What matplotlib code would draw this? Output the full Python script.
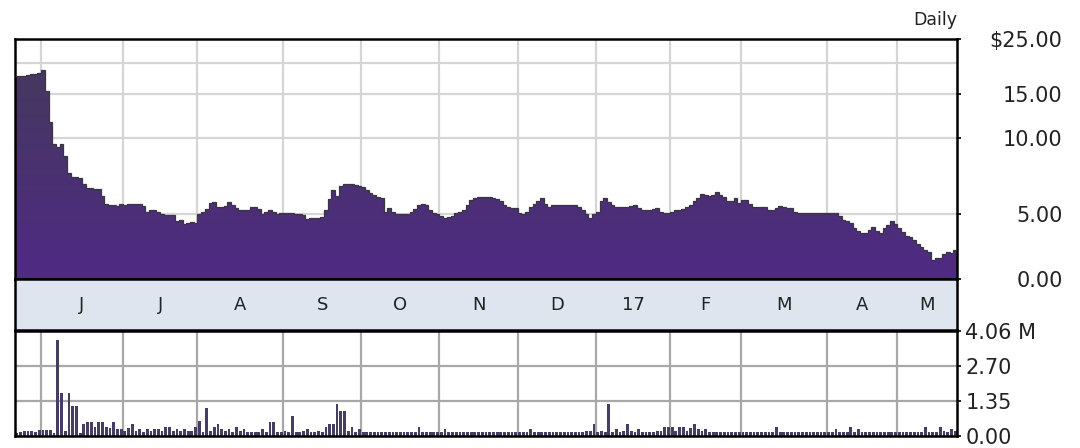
import numpy as np
import pandas as pd
import matplotlib
matplotlib.use('Agg')
import matplotlib.pyplot as plt

# trading calendar (NYSE holidays in the window)
holidays = ['2016-05-30', '2016-07-04', '2016-09-05', '2016-11-24', '2016-12-26',
            '2017-01-02', '2017-01-16', '2017-02-20', '2017-04-14']
dates = pd.bdate_range('2016-05-20', '2017-05-22', freq='C', holidays=holidays)

# daily close, $
price = [
    17.7, 17.7, 17.7, 18.0, 18.1, 18.1, 18.2, 18.8, 15.5, 11.6,
    9.5, 9.2, 9.5, 8.5, 7.3, 7.0, 7.0, 6.95, 6.6, 6.35,
    6.35, 6.3, 6.3, 5.87, 5.45, 5.4, 5.4, 5.35, 5.45, 5.4,
    5.45, 5.45, 5.45, 5.45, 5.35, 5.1, 5.15, 5.15, 5.1, 4.95,
    4.92, 4.92, 4.9, 4.45, 4.5, 4.2, 4.3, 4.35, 4.3, 5.0,
    5.1, 5.2, 5.5, 5.55, 5.3, 5.3, 5.35, 5.55, 5.4, 5.25,
    5.15, 5.15, 5.15, 5.3, 5.3, 5.2, 5.0, 5.1, 5.15, 5.1,
    5.0, 5.05, 5.05, 5.05, 5.05, 5.0, 4.95, 4.9, 4.6, 4.65,
    4.7, 4.7, 4.75, 5.15, 5.7, 6.2, 5.9, 6.45, 6.55, 6.6,
    6.6, 6.5, 6.45, 6.4, 6.2, 6.05, 5.95, 5.85, 5.78, 5.1,
    5.25, 5.1, 5.0, 5.0, 5.0, 5.0, 5.1, 5.2, 5.4, 5.45,
    5.4, 5.15, 5.05, 5.0, 4.8, 4.67, 4.75, 4.8, 5.05, 5.1,
    5.15, 5.4, 5.68, 5.8, 5.83, 5.83, 5.85, 5.83, 5.8, 5.7,
    5.6, 5.43, 5.3, 5.27, 5.25, 5.05, 5.0, 5.1, 5.3, 5.45,
    5.6, 5.78, 5.45, 5.3, 5.4, 5.43, 5.43, 5.43, 5.43, 5.43,
    5.4, 5.3, 5.19, 5.0, 4.67, 4.95, 5.1, 5.6, 5.78, 5.55,
    5.43, 5.3, 5.3, 5.3, 5.3, 5.35, 5.43, 5.25, 5.19, 5.19,
    5.19, 5.22, 5.27, 5.1, 5.03, 5.05, 5.1, 5.15, 5.19, 5.2,
    5.3, 5.43, 5.6, 5.8, 6.0, 5.95, 5.87, 5.95, 6.09, 5.95,
    5.85, 5.6, 5.6, 5.78, 5.5, 5.68, 5.68, 5.45, 5.3, 5.3,
    5.3, 5.3, 5.19, 5.19, 5.25, 5.38, 5.3, 5.27, 5.27, 5.1,
    5.05, 5.05, 5.05, 5.05, 5.05, 5.05, 5.05, 5.05, 5.05, 5.05,
    5.05, 4.8, 4.54, 4.45, 4.28, 3.9, 3.64, 3.55, 3.51, 3.75,
    3.95, 3.7, 3.51, 3.9, 4.1, 4.45, 4.2, 3.9, 3.6, 3.3,
    3.2, 3.0, 2.7, 2.45, 2.2, 2.05, 1.46, 1.6, 1.6, 1.9,
    2.1, 1.98, 2.23,
]

# daily volume, millions of shares
volume = [
    0.1, 0.15, 0.2, 0.2, 0.2, 0.15, 0.22, 0.22, 0.22, 0.22,
    0.1, 3.73, 1.67, 0.2, 1.67, 1.16, 1.16, 0.1, 0.45, 0.55,
    0.55, 0.35, 0.55, 0.55, 0.35, 0.3, 0.55, 0.26, 0.26, 0.2,
    0.32, 0.45, 0.2, 0.26, 0.15, 0.26, 0.2, 0.26, 0.26, 0.2,
    0.36, 0.36, 0.2, 0.26, 0.2, 0.26, 0.2, 0.2, 0.36, 0.58,
    0.15, 1.09, 0.2, 0.36, 0.45, 0.26, 0.2, 0.26, 0.15, 0.36,
    0.2, 0.26, 0.15, 0.17, 0.17, 0.15, 0.26, 0.15, 0.54, 0.54,
    0.15, 0.17, 0.19, 0.15, 0.77, 0.17, 0.15, 0.19, 0.26, 0.15,
    0.17, 0.19, 0.15, 0.36, 0.45, 0.45, 1.25, 0.97, 0.97, 0.2,
    0.36, 0.15, 0.26, 0.15, 0.15, 0.17, 0.15, 0.17, 0.15, 0.15,
    0.17, 0.15, 0.17, 0.15, 0.15, 0.17, 0.15, 0.17, 0.36, 0.15,
    0.17, 0.15, 0.15, 0.17, 0.15, 0.26, 0.17, 0.15, 0.15, 0.17,
    0.15, 0.15, 0.17, 0.15, 0.15, 0.17, 0.15, 0.15, 0.17, 0.15,
    0.15, 0.17, 0.15, 0.15, 0.17, 0.15, 0.15, 0.17, 0.26, 0.15,
    0.17, 0.15, 0.15, 0.17, 0.15, 0.15, 0.17, 0.15, 0.15, 0.17,
    0.15, 0.15, 0.17, 0.2, 0.2, 0.45, 0.15, 0.2, 0.15, 1.25,
    0.15, 0.26, 0.15, 0.19, 0.45, 0.2, 0.15, 0.26, 0.15, 0.17,
    0.15, 0.17, 0.19, 0.2, 0.36, 0.36, 0.36, 0.2, 0.36, 0.36,
    0.2, 0.32, 0.45, 0.26, 0.2, 0.26, 0.15, 0.17, 0.15, 0.15,
    0.17, 0.15, 0.15, 0.17, 0.15, 0.15, 0.17, 0.15, 0.15, 0.17,
    0.15, 0.15, 0.17, 0.15, 0.36, 0.15, 0.17, 0.15, 0.15, 0.17,
    0.15, 0.15, 0.17, 0.15, 0.15, 0.17, 0.15, 0.15, 0.17, 0.15,
    0.26, 0.15, 0.17, 0.15, 0.36, 0.15, 0.26, 0.15, 0.17, 0.15,
    0.15, 0.17, 0.15, 0.15, 0.17, 0.15, 0.15, 0.17, 0.15, 0.15,
    0.17, 0.15, 0.15, 0.17, 0.36, 0.15, 0.17, 0.15, 0.36, 0.2,
    0.15, 0.26, 0.2,
]

month_labels = ['J', 'J', 'A', 'S', 'O', 'N', 'D', '17', 'F', 'M', 'A', 'M']
price_ticks = [0, 5, 10, 15, 25]
price_tick_labels = ['0.00', '5.00', '10.00', '15.00', '$25.00']
price_grid = [5, 10, 15, 20]
volume_ticks = [0, 1.35, 2.70, 4.06]
volume_tick_labels = ['0.00', '1.35', '2.70', '4.06 M']

plt.rcParams['font.family'] = ['DejaVu Sans']

n = len(price)
x = np.arange(n)
edges = np.arange(n + 1) - 0.5
months = np.asarray(dates.month)[:n]
starts = np.flatnonzero(months != np.roll(months, 1))
bounds = list(starts) + [n]
mid = [(bounds[i] + bounds[i + 1]) / 2 - 0.5 for i in range(len(bounds) - 1)]

LOW = 65 / 108.0


def fwd(v):
    v = np.asarray(v, dtype=float)
    return np.where(v < 5, v / 5 * LOW, LOW + np.log(np.maximum(v, 1e-9) / 5))


def inv(u):
    u = np.asarray(u, dtype=float)
    return np.where(u < LOW, u / LOW * 5, 5 * np.exp(np.minimum(u, 50) - LOW))


W, H = 1080, 448
fig = plt.figure(figsize=(W / 100, H / 100), dpi=100)
L, R = 15, 957
ax = fig.add_axes([L / W, 1 - 279 / H, (R - L) / W, 240 / H])
band = fig.add_axes([L / W, 1 - 330 / H, (R - L) / W, 51 / H])
axv = fig.add_axes([L / W, 1 - 436 / H, (R - L) / W, 105 / H])

# price panel
ax.set_yscale('function', functions=(fwd, inv))
for s in starts:
    ax.axvline(s - 0.5, color='#d5d5d5', lw=1.6, zorder=0)
for g in price_grid:
    ax.axhline(g, color='#d5d5d5', lw=1.6, zorder=0)
patch = ax.stairs(price, edges, baseline=0, fill=True, color='#4b2f78', lw=0, zorder=1)
grad = np.linspace(0, 1, 256).reshape(-1, 1)
cmap = matplotlib.colors.LinearSegmentedColormap.from_list('p', ['#4f2a84', '#443a5a'])
im = ax.imshow(grad, extent=(0, 1, 0, 1), transform=ax.transAxes, aspect='auto',
               origin='lower', cmap=cmap, zorder=2)
im.set_clip_path(patch)
ax.stairs(price, edges, baseline=None, color='#3a3540', lw=0.9, zorder=3)
ax.set_xlim(-0.5, n - 0.5)
ax.set_ylim(0, 25)
ax.set_xticks([])
ax.yaxis.tick_right()
ax.set_yticks(price_ticks)
ax.set_yticklabels(price_tick_labels)
ax.minorticks_off()
ax.tick_params(axis='y', length=3, width=1.2, direction='out', pad=73,
               labelsize=15, labelcolor='#222222')
for t in ax.get_yticklabels():
    t.set_horizontalalignment('right')
for sp in ax.spines.values():
    sp.set_linewidth(1.8)
ax.text(1.0, 1.04, 'Daily', transform=ax.transAxes, ha='right', va='bottom',
        fontsize=12.5, color='#222222')

# month band
band.set_facecolor('#dfe5ef')
band.set_xlim(-0.5, n - 0.5)
band.set_ylim(0, 1)
band.set_xticks([])
band.set_yticks([])
for m, lab in zip(mid, month_labels):
    band.text(m, 0.5, lab, ha='center', va='center', fontsize=13, color='#222222')
for sp in band.spines.values():
    sp.set_linewidth(1.8)

# volume panel
for s in starts:
    axv.axvline(s - 0.5, color='#a8a8a8', lw=1.6, zorder=0)
for g in volume_ticks[1:3]:
    axv.axhline(g, color='#a8a8a8', lw=1.6, zorder=0)
axv.bar(x, volume, width=0.75, color='#473d62', zorder=2)
axv.set_xlim(-0.5, n - 0.5)
axv.set_ylim(0, 4.06)
axv.set_xticks([])
axv.yaxis.tick_right()
axv.set_yticks(volume_ticks)
axv.set_yticklabels(volume_tick_labels)
axv.tick_params(axis='y', length=3, width=1.2, direction='out', pad=3,
                labelsize=15, labelcolor='#222222')
for sp in axv.spines.values():
    sp.set_linewidth(1.8)

fig.savefig('out.png', dpi=100)
